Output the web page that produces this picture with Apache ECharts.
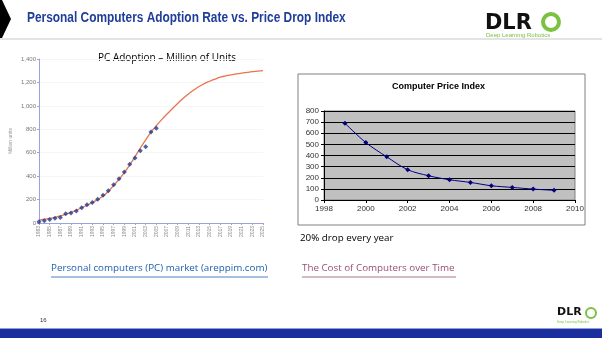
<!DOCTYPE html>
<html>
<head>
<meta charset="utf-8">
<script src="https://cdn.jsdelivr.net/npm/echarts@6/dist/echarts.min.js"></script>
<style>
html,body{margin:0;padding:0;background:#fff;}
#main{width:602px;height:338px;}
</style>
</head>
<body>
<div id="main"></div>
<script>
// ---- Data ----
var adoptionYears = [];
for (var y = 1983; y <= 2025; y++) adoptionYears.push(String(y));
var adoptionActual = [10, 20, 30, 40, 48, 78, 85, 102, 131, 156, 174, 202, 236, 276, 327, 378, 435, 501, 555, 617, 650, 777, 808];
var adoptionCurve = [25, 32, 40, 49, 60, 74, 90, 109, 130, 152, 175, 200, 230, 270, 320, 372, 430, 495, 565, 640, 710, 775, 830, 882, 930, 976, 1020, 1062, 1100, 1135, 1165, 1190, 1210, 1228, 1245, 1256, 1265, 1273, 1280, 1286, 1292, 1296, 1300];
var priceYears = [1999, 2000, 2001, 2002, 2003, 2004, 2005, 2006, 2007, 2008, 2009];
var priceIndex = [690, 516, 388, 272, 218, 182, 158, 128, 113, 98, 87];

var titleText = 'Personal Computers Adoption Rate vs. Price Drop Index';
var leftTitle = 'PC Adoption \u2013 Million of Units';
var rightTitle = 'Computer Price Index';
var noteText = '20% drop every year';
var link1 = 'Personal computers (PC) market (areppim.com)';
var link2 = 'The Cost of Computers over Time';
var pageNum = '16';

var chart = echarts.init(document.getElementById('main'), null, {renderer: 'canvas'});
var bodyFont = '"Open Sans", "Noto Sans", sans-serif';

var option = {
  backgroundColor: '#ffffff',
  animation: false,
  grid: [
    {left: 39, right: 339, top: 59, bottom: 115, containLabel: false},
    {left: 324, right: 27, top: 111, bottom: 138, show: true, backgroundColor: '#C0C0C0', borderColor: '#808080', borderWidth: 1}
  ],
  xAxis: [
    {
      gridIndex: 0, type: 'category', data: adoptionYears, boundaryGap: false,
      axisLine: {lineStyle: {color: '#9aa3dd', width: 1}},
      axisTick: {show: true, interval: 1, length: 2, lineStyle: {color: '#9aa3dd'}},
      axisLabel: {interval: 1, rotate: 90, fontSize: 5, color: '#888', margin: 3, fontFamily: 'Liberation Sans'}
    },
    {
      gridIndex: 1, type: 'value', min: 1998, max: 2010, interval: 2,
      axisLine: {show: true, onZero: false, lineStyle: {color: '#000', width: 1}},
      axisTick: {show: true, length: 3, lineStyle: {color: '#000'}},
      axisLabel: {fontSize: 8, color: '#333', margin: 5, fontFamily: 'Liberation Sans',
        formatter: function (v) { return String(v); }},
      splitLine: {show: false}
    }
  ],
  yAxis: [
    {
      gridIndex: 0, type: 'value', min: 0, max: 1400, interval: 200,
      name: 'Million units', nameLocation: 'middle', nameGap: 26,
      nameTextStyle: {fontSize: 5, color: '#999', fontFamily: 'Liberation Sans'},
      axisLine: {show: true, lineStyle: {color: '#9aa3dd', width: 1}},
      axisTick: {show: true, length: 2, lineStyle: {color: '#9aa3dd'}},
      axisLabel: {fontSize: 6, color: '#777', margin: 3, fontFamily: 'Liberation Sans',
        formatter: function (v) { return v.toLocaleString('en-US'); }},
      splitLine: {show: true, lineStyle: {color: '#f5f5f5', width: 1}}
    },
    {
      gridIndex: 1, type: 'value', min: 0, max: 800, interval: 100,
      axisLine: {show: true, lineStyle: {color: '#000', width: 1}},
      axisTick: {show: true, length: 3, lineStyle: {color: '#000'}},
      axisLabel: {fontSize: 8, color: '#333', margin: 5, fontFamily: 'Liberation Sans'},
      splitLine: {show: true, lineStyle: {color: '#000', width: 1}}
    }
  ],
  series: [
    {
      type: 'line', xAxisIndex: 0, yAxisIndex: 0, data: adoptionCurve, smooth: true,
      showSymbol: false, lineStyle: {color: '#E8744F', width: 1.3}, z: 2
    },
    {
      type: 'scatter', xAxisIndex: 0, yAxisIndex: 0, data: adoptionActual,
      symbol: 'diamond', symbolSize: 5, itemStyle: {color: '#1F3A8C'}, z: 3
    },
    {
      type: 'line', xAxisIndex: 1, yAxisIndex: 1,
      data: priceYears.map(function (yr, i) { return [yr, priceIndex[i]]; }),
      smooth: 0.3, symbol: 'diamond', symbolSize: 5,
      lineStyle: {color: '#000080', width: 1}, itemStyle: {color: '#000080'}
    }
  ],
  graphic: [
    // chevron
    {type: 'polygon', shape: {points: [[0, 0], [2, 0], [11, 19], [2, 38], [0, 38]]}, style: {fill: '#000'}},
    // header line
    {type: 'line', shape: {x1: 0, y1: 39, x2: 602, y2: 39}, style: {stroke: '#c8c8c8', lineWidth: 1}},
    // title
    {type: 'text', x: 27, y: 11, scaleX: 0.85, style: {text: titleText, font: 'bold 14px "Liberation Sans", sans-serif', fill: '#1F3E9A'}},
    // top logo
    {type: 'text', x: 485, y: 12, scaleX: 0.95, style: {text: 'DLR', font: '900 22px "DejaVu Sans", sans-serif', fill: '#111'}},
    {type: 'circle', shape: {cx: 551, cy: 22, r: 8}, style: {fill: 'none', stroke: '#7BC142', lineWidth: 4}},
    {type: 'text', x: 486, y: 32, style: {text: 'Deep Learning Robotics', font: '6px "Liberation Sans", sans-serif', fill: '#7BC142'}},
    // left chart title
    {type: 'text', x: 98, y: 53, style: {text: leftTitle, font: '10px ' + bodyFont, fill: '#000'}},
    // right chart box & title
    {type: 'rect', shape: {x: 298, y: 74, width: 287, height: 151}, style: {fill: 'none', stroke: '#808080', lineWidth: 1}, z: -1},
    {type: 'text', x: 392, y: 82, style: {text: rightTitle, font: 'bold 9px "Liberation Sans", sans-serif', fill: '#000'}},
    // note
    {type: 'text', x: 300, y: 233, style: {text: noteText, font: '9.8px ' + bodyFont, fill: '#000'}},
    // links
    {type: 'text', x: 51, y: 263, style: {text: link1, font: '9.8px ' + bodyFont, fill: '#1F5FAF'}},
    {type: 'line', shape: {x1: 51, y1: 277, x2: 268, y2: 277}, style: {stroke: '#1F5FAF', lineWidth: 0.8}},
    {type: 'text', x: 302, y: 263, style: {text: link2, font: '9.8px ' + bodyFont, fill: '#954F72'}},
    {type: 'line', shape: {x1: 302, y1: 277, x2: 456, y2: 277}, style: {stroke: '#954F72', lineWidth: 0.8}},
    // page number
    {type: 'text', x: 40, y: 317, style: {text: pageNum, font: '6px "Liberation Sans", sans-serif', fill: '#333'}},
    // bottom logo
    {type: 'text', x: 557, y: 307, style: {text: 'DLR', font: '900 11px "DejaVu Sans", sans-serif', fill: '#111'}},
    {type: 'circle', shape: {cx: 591, cy: 313, r: 5}, style: {fill: 'none', stroke: '#7BC142', lineWidth: 2}},
    {type: 'text', x: 557, y: 321, style: {text: 'Deep Learning Robotics', font: '3px "Liberation Sans", sans-serif', fill: '#7BC142'}},
    // bottom bar
    {type: 'rect', shape: {x: 0, y: 328, width: 602, height: 1}, style: {fill: '#8fa0d8'}},
    {type: 'rect', shape: {x: 0, y: 329, width: 602, height: 9}, style: {fill: '#1A2E9E'}}
  ]
};
chart.setOption(option);
</script>
</body>
</html>
